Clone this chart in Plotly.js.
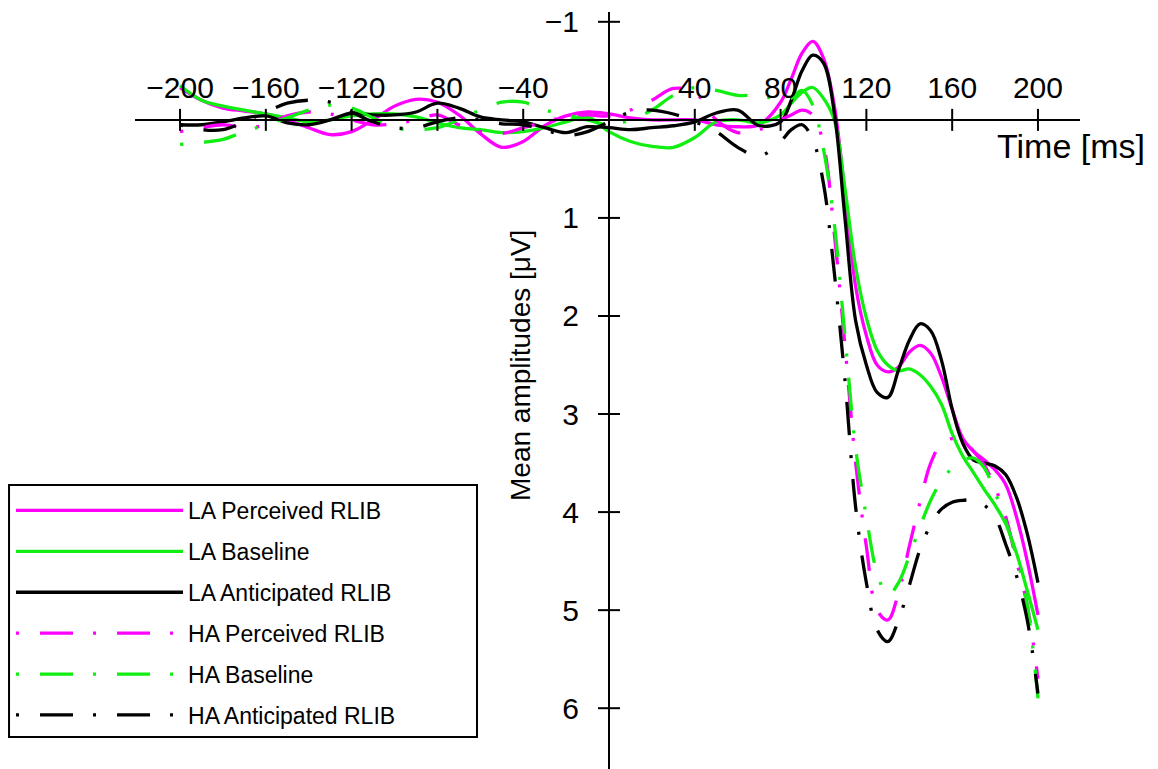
<!DOCTYPE html>
<html><head><meta charset="utf-8">
<script src="https://cdn.plot.ly/plotly-3.0.1.min.js"></script>
<style>html,body{margin:0;padding:0;background:#fff;}</style>
</head><body><div id="chart" style="width:1158px;height:769px;"></div>
<script>
// time points (ms)
const time = [-200,-190,-180,-170,-160,-150,-140,-130,-120,-110,-100,-90,-80,-70,-60,-50,-40,-30,-20,-10,0,10,20,30,40,50,60,70,80,85,90,95,100,105,110,115,120,125,130,135,140,145,150,155,160,165,170,175,180,185,190,195,200];

// mean amplitudes (µV), positive plotted downward
const laPerceived = [-0.33,-0.2,-0.12,-0.09,-0.06,0.0,0.08,0.15,0.12,0.0,-0.14,-0.21,-0.18,-0.05,0.14,0.28,0.22,0.06,-0.04,-0.08,-0.06,-0.02,0.0,0.0,0.0,0.05,0.07,0.05,-0.18,-0.42,-0.68,-0.8,-0.63,-0.15,0.75,1.7,2.2,2.5,2.57,2.52,2.37,2.3,2.38,2.62,2.95,3.25,3.38,3.47,3.57,3.72,4.05,4.5,5.05];
const laBaseline = [-0.35,-0.2,-0.14,-0.1,-0.06,-0.02,0.02,0.0,-0.04,-0.06,-0.06,-0.03,0.03,0.08,0.1,0.13,0.12,0.08,0.02,-0.03,0.12,0.22,0.27,0.28,0.18,0.02,0.0,0.03,-0.05,-0.17,-0.28,-0.33,-0.22,0.0,0.7,1.5,2.02,2.35,2.5,2.56,2.54,2.6,2.72,2.9,3.2,3.43,3.6,3.77,3.93,4.12,4.42,4.8,5.2];
const laAnticipated = [0.05,0.05,0.02,-0.02,-0.04,0.03,0.05,0.0,-0.07,-0.05,-0.05,-0.08,-0.17,-0.12,-0.03,0.0,0.02,0.08,0.13,0.07,0.08,0.1,0.08,0.06,0.02,-0.07,-0.1,0.06,0.02,-0.2,-0.5,-0.66,-0.58,-0.08,1.0,2.05,2.5,2.78,2.83,2.55,2.25,2.08,2.15,2.45,2.95,3.3,3.47,3.5,3.53,3.62,3.85,4.22,4.72];
const haPerceived = [0.12,0.08,0.05,0.08,0.05,-0.04,-0.08,-0.06,0.0,0.05,0.04,0.0,-0.05,0.05,0.12,0.14,0.08,0.02,-0.03,-0.05,-0.04,-0.1,-0.2,-0.32,-0.28,0.0,0.13,0.1,0.0,-0.05,-0.1,-0.05,0.25,1.15,2.3,3.5,4.35,5.0,5.1,4.82,4.35,3.9,3.5,3.3,3.25,3.28,3.38,3.52,3.75,4.05,4.5,4.95,5.7];
const haBaseline = [0.25,0.23,0.2,0.12,0.05,-0.02,-0.1,-0.15,-0.12,-0.02,0.08,0.1,0.08,0.0,-0.1,-0.18,-0.18,-0.1,-0.05,0.0,0.05,0.0,-0.1,-0.25,-0.33,-0.3,-0.25,-0.25,-0.2,-0.22,-0.3,-0.15,0.3,1.05,2.2,3.35,4.05,4.62,4.85,4.72,4.45,4.15,3.88,3.68,3.55,3.47,3.45,3.55,3.8,4.1,4.45,4.95,5.9];
const haAnticipated = [0.05,0.1,0.1,0.02,-0.08,-0.17,-0.2,-0.18,-0.08,0.02,0.08,0.08,0.02,-0.02,0.0,0.04,0.05,0.1,0.16,0.12,0.02,-0.08,-0.1,-0.06,0.02,0.12,0.28,0.37,0.22,0.1,0.05,0.2,0.65,1.55,2.65,3.95,4.72,5.2,5.32,5.1,4.75,4.38,4.13,3.97,3.9,3.88,3.88,3.93,4.05,4.33,4.65,5.1,5.85];

const seriesNames = ['LA Perceived RLIB','LA Baseline','LA Anticipated RLIB','HA Perceived RLIB','HA Baseline','HA Anticipated RLIB'];
const seriesValues = [laPerceived, laBaseline, laAnticipated, haPerceived, haBaseline, haAnticipated];

const xTicks = [-200,-160,-120,-80,-40,40,80,120,160,200];
const yTicks = [-1,1,2,3,4,5,6];
const xTitle = 'Time [ms]';
const yTitle = 'Mean amplitudes [\u03bcV]';

const MAGENTA = '#ff00ff', GREEN = '#11ee11', BLACK = '#000000';
const colors = [MAGENTA, GREEN, BLACK, MAGENTA, GREEN, BLACK];
const dashes = ['solid','solid','solid','3px,21px,33px,20px','3px,21px,33px,20px','3px,21px,33px,20px'];

const xRange = [-221, 219.6];
const yRange = [6.62, -1.10];
const yZeroPos = (yRange[0] - 0) / (yRange[0] - yRange[1]);
const xZeroPos = (0 - xRange[0]) / (xRange[1] - xRange[0]);

const FONT = 'Liberation Sans, Arial, sans-serif';

const traces = seriesNames.map((name, i) => ({
  type: 'scatter', mode: 'lines', name: name,
  x: time, y: seriesValues[i],
  legendgroup: 'g' + i,
  line: {color: colors[i], width: 3.3, shape: 'spline', smoothing: 1, dash: dashes[i]},
  hoverinfo: 'skip'
}));

const shapes = [];
xTicks.forEach(t => shapes.push({type:'line', xref:'x', yref:'y', x0:t, x1:t, ysizemode:'pixel', yanchor:0, y0:-11, y1:11, line:{color:'black', width:2}}));
yTicks.forEach(v => shapes.push({type:'line', xref:'x', yref:'y', y0:v, y1:v, xsizemode:'pixel', xanchor:0, x0:-11, x1:11, line:{color:'black', width:2}}));
// legend frame
shapes.push({type:'rect', xref:'paper', yref:'paper', x0:-0.1333, x1:0.3619, y0:0.0423, y1:0.3752, line:{color:'black', width:2}, fillcolor:'rgba(0,0,0,0)', layer:'above'});

const layout = {
  width: 1158, height: 769,
  margin: {l:135, r:78, t:12, b:0, pad:0},
  paper_bgcolor: 'white', plot_bgcolor: 'white',
  showlegend: true,
  xaxis: {
    range: xRange, anchor: 'free', position: yZeroPos, side: 'top',
    showline: true, linecolor: 'black', linewidth: 2,
    tickmode: 'array', tickvals: xTicks,
    ticks: 'outside', ticklen: 9, tickcolor: 'rgba(0,0,0,0)',
    tickfont: {family: FONT, size: 30, color: 'black'},
    showgrid: false, zeroline: false, fixedrange: true
  },
  yaxis: {
    range: yRange, anchor: 'free', position: xZeroPos, side: 'left',
    showline: true, linecolor: 'black', linewidth: 2,
    tickmode: 'array', tickvals: yTicks,
    ticks: 'outside', ticklen: 23, tickcolor: 'rgba(0,0,0,0)',
    tickfont: {family: FONT, size: 30, color: 'black'},
    showgrid: false, zeroline: false, fixedrange: true
  },
  shapes: shapes,
  annotations: [
    {xref:'x', yref:'y', x:180, y:0.27, xanchor:'left', yanchor:'middle', text:xTitle, showarrow:false, font:{family:FONT, size:34, color:'black'}},
    {xref:'x', yref:'y', x:-41.5, y:2.5, xanchor:'center', yanchor:'middle', textangle:-90, text:yTitle, showarrow:false, font:{family:FONT, size:28, color:'black'}}
  ],
  legend: {
    x: -0.1312, y: 0.3699, xanchor: 'left', yanchor: 'top',
    bgcolor: 'rgba(0,0,0,0)', borderwidth: 0,
    font: {family: FONT, size: 23, color: 'black'},
    itemwidth: 167, tracegroupgap: 8, traceorder: 'grouped'
  }
};

Plotly.newPlot('chart', traces, layout, {displayModeBar: false, staticPlot: true});
</script>
</body></html>
